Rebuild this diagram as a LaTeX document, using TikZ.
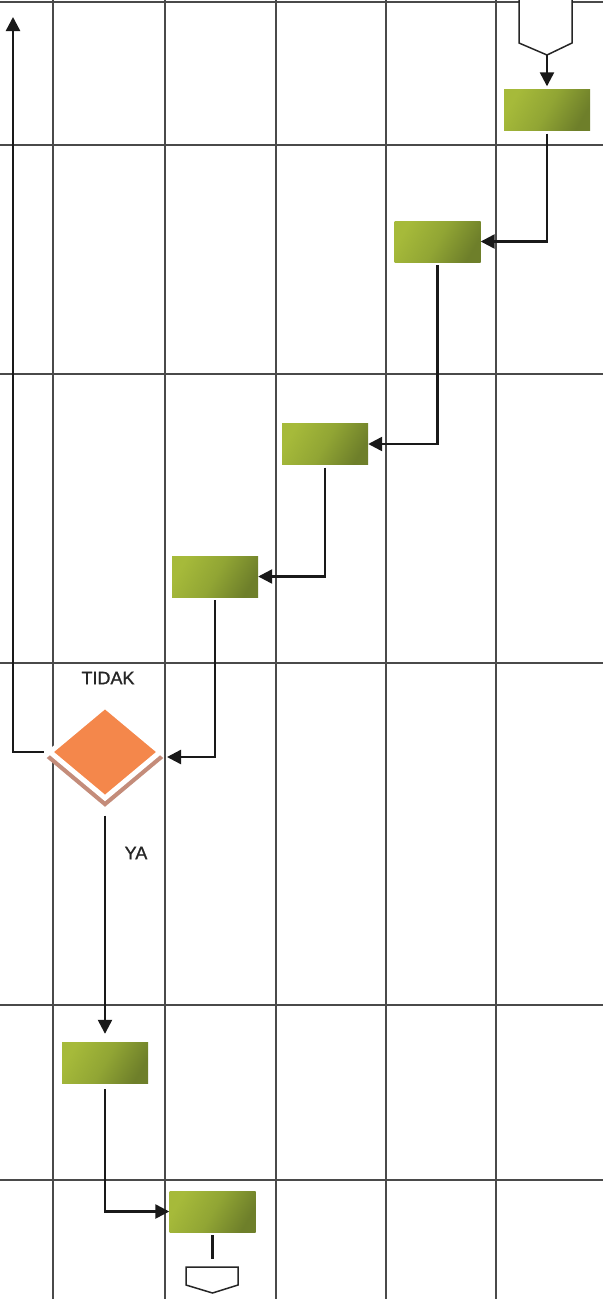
\documentclass[tikz,border=0pt]{standalone}
\usepackage{fontspec}
\newfontfamily\labelfont[FakeBold=1.2]{Liberation Sans}
\usetikzlibrary{shapes.geometric,arrows.meta}

\definecolor{gridgray}{HTML}{4A4A4A}
\definecolor{boxlight}{HTML}{A6BA3A}
\definecolor{boxmid}{HTML}{91A534}
\definecolor{boxdark}{HTML}{6E7F2A}
\definecolor{decorange}{HTML}{F4874B}
\definecolor{decshadow}{HTML}{C48C7A}
\definecolor{labelgray}{HTML}{262626}

\tikzset{
  gridline/.style={draw=gridgray, line width=1.2pt},
  stepbox/.style={rectangle, minimum width=86pt, minimum height=41pt,
    inner sep=0pt, top color=boxlight, bottom color=boxdark,
    middle color=boxmid, shading angle=60, draw=none},
  decision/.style={diamond, minimum width=112pt, minimum height=94pt,
    inner sep=0pt, fill=decorange, draw=white, line width=5pt},
  decshade/.style={diamond, minimum width=112pt, minimum height=94pt,
    inner sep=0pt, fill=decshadow, draw=decshadow, line width=4pt},
  flow/.style={draw=black!90, line width=2.4pt,
    -{Triangle[length=14pt,width=14pt]}},
  plainflow/.style={draw=black!90, line width=2.4pt},
  offpage/.style={draw=black!85, line width=1.5pt, fill=white, line join=miter},
  lbl/.style={font=\labelfont\fontsize{18}{20}\selectfont, text=labelgray}
}

\begin{document}
\begin{tikzpicture}[x=1pt, y=-1pt]
  \useasboundingbox (0,0) rectangle (603,1299);
  \fill[white] (0,0) rectangle (603,1299);

  % swimlane grid
  \foreach \gx in {53,165,276,386,496}
    \draw[gridline] (\gx,0) -- (\gx,1299);
  \foreach \gy in {2,145,374,663,1005,1180}
    \draw[gridline] (0,\gy) -- (603,\gy);

  % off-page connector at the start
  \draw[offpage] (519,-5) -- (519,43) -- (547,55) -- (572,43) -- (572,-5);
  \coordinate (start) at (547,55);

  % process steps
  \node[stepbox] (b1) at (547,110) {};
  \node[stepbox] (b2) at (437.5,241.5) {};
  \node[stepbox] (b3) at (325,444) {};
  \node[stepbox] (b4) at (215,576.5) {};
  \node[stepbox] (b5) at (105,1062.5) {};
  \node[stepbox] (b6) at (212.5,1211.5) {};

  % decision
  \node[decshade] (dshade) at (105,758) {};
  \node[decision] (dec) at (105,752) {};
  \coordinate (decin) at (167,757);
  \coordinate (back) at (13,17);

  \node[lbl] (tidak) at (108,678) {TIDAK};
  \node[lbl] (ya) at (136,853) {YA};

  % off-page connector at the end
  \coordinate (finish) at (212.5,1266);
  \draw[offpage] (186,1267) -- (238,1267) -- (238,1285) -- (212.5,1293)
    -- (186,1285) -- cycle;

  % connectors
  \draw[flow, shorten >=3pt] (start) -- (b1.north);
  \draw[flow, shorten <=3pt] (b1.south) |- (b2.east);
  \draw[flow, shorten <=3pt] (b2.south) |- (b3.east);
  \draw[flow, shorten <=3pt] (b3.south) |- (b4.east);
  \draw[flow, shorten <=3pt] (b4.south) |- (decin);
  \draw[flow, shorten <=3pt] (dec.west) -| (back);
  \draw[flow, shorten <=14pt, shorten >=8pt] (dec.south) -- (b5.north);
  \draw[flow, shorten <=6pt] (b5.south) |- (b6.west);
  \draw[plainflow, shorten <=3pt] (b6.south) -- ([yshift=7pt]finish);
\end{tikzpicture}
\end{document}
